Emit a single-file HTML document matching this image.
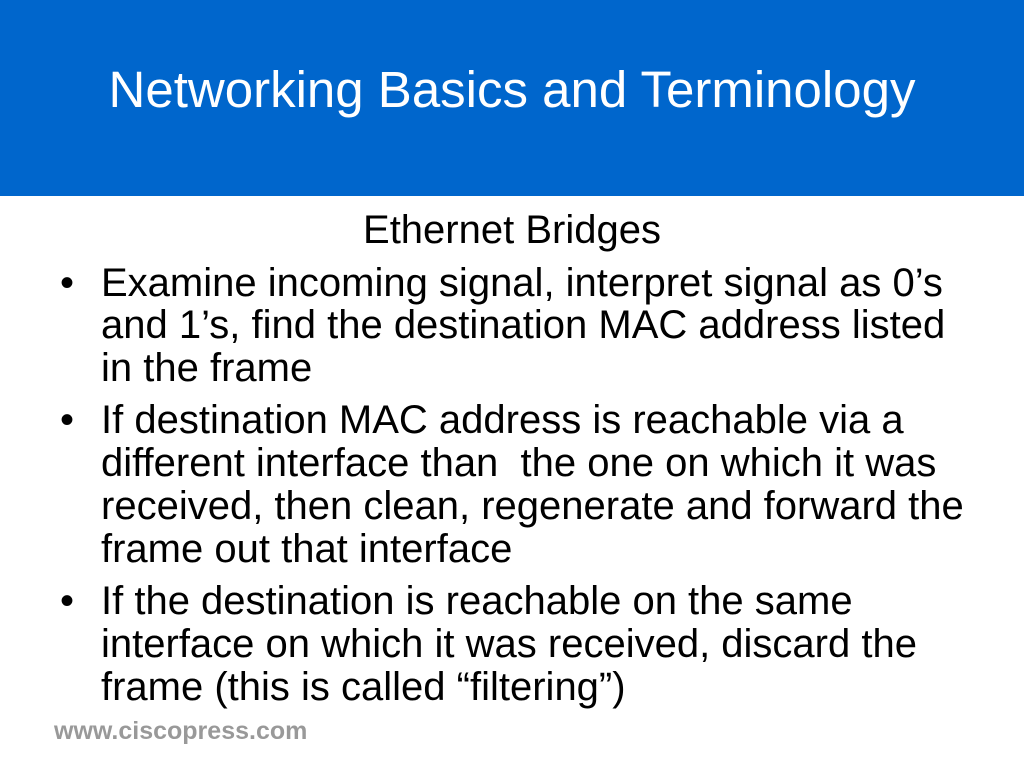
<!DOCTYPE html>
<html><head><meta charset="utf-8"><style>
body{margin:0;width:1024px;height:768px;background:#fff;position:relative;overflow:hidden;font-family:"Liberation Sans",Arial,sans-serif;}
.hdr{position:absolute;left:0;top:0;width:1024px;height:196px;background:#0066cc;}
.title{position:absolute;left:0;width:1024px;top:64px;text-align:center;color:#fff;font-size:51px;line-height:52px;white-space:nowrap;}
.l{position:absolute;font-size:40px;line-height:40px;color:#000;white-space:nowrap;}
.b{position:absolute;left:60px;font-size:40px;line-height:40px;}
.ft{position:absolute;left:54px;top:717px;font-size:25px;font-weight:bold;color:#999;}
</style></head><body>
<div class="hdr"></div>
<div class="title">Networking Basics and Terminology</div>
<div class="l" style="left:0;width:1024px;text-align:center;top:210px">Ethernet Bridges</div>
<div class="b" style="top:263px">•</div>
<div class="l" style="left:101px;top:263px">Examine incoming signal, interpret signal as 0’s</div>
<div class="l" style="left:101px;top:305px">and 1’s, find the destination MAC address listed</div>
<div class="l" style="left:101px;top:348px">in the frame</div>
<div class="b" style="top:400px">•</div>
<div class="l" style="left:101px;top:400px">If destination MAC address is reachable via a</div>
<div class="l" style="left:101px;top:443px">different interface than&nbsp; the one on which it was</div>
<div class="l" style="left:101px;top:486px">received, then clean, regenerate and forward the</div>
<div class="l" style="left:101px;top:529px">frame out that interface</div>
<div class="b" style="top:581px">•</div>
<div class="l" style="left:101px;top:581px">If the destination is reachable on the same</div>
<div class="l" style="left:101px;top:624px">interface on which it was received, discard the</div>
<div class="l" style="left:101px;top:667px">frame (this is called “filtering”)</div>
<div class="ft">www.ciscopress.com</div>
</body></html>
